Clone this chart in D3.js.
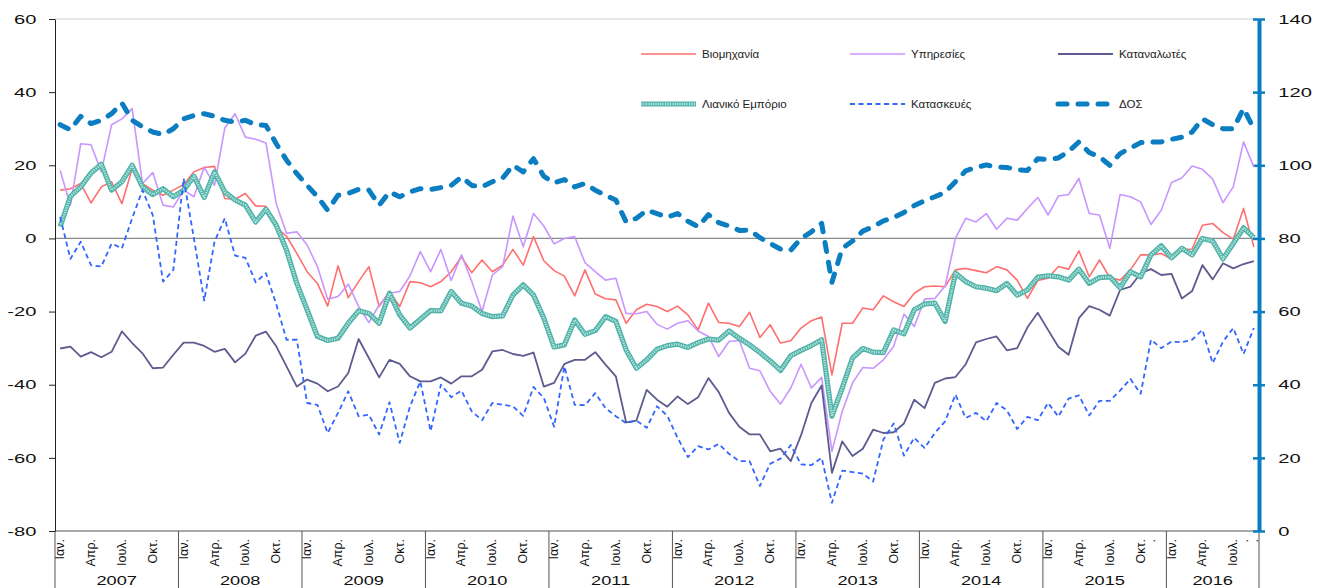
<!DOCTYPE html>
<html><head><meta charset="utf-8">
<script src="https://cdn.jsdelivr.net/npm/d3@7"></script>
<style>
body{margin:0;background:#fff;}
svg{display:block;}
svg text{font-family:"Liberation Sans",Arial,sans-serif;}
</style>
</head><body>
<svg id="chart" width="1317" height="588" font-family="Liberation Sans, Arial, sans-serif"></svg>
<script>
// ---------- DATA ----------
const years = [2007, 2008, 2009, 2010, 2011, 2012, 2013, 2014, 2015, 2016];
const monthsInLastYear = 9;
const monthTickLabels = {0: "Ιαν.", 3: "Απρ.", 6: "Ιουλ.", 9: "Οκτ."};
const extraTickLabels = {106: ".", 115: ".", 116: "."};
const leftTicks = [60, 40, 20, 0, -20, -40, -60, -80];
const rightTicks = [0, 20, 40, 60, 80, 100, 120, 140];
const seriesNames = ["Βιομηχανία", "Υπηρεσίες", "Καταναλωτές", "Λιανικό Εμπόριο", "Κατασκευές", "ΔΟΣ"];

const industry = [
 13.2, 13.6, 15.0, 9.7, 14.1, 15.5, 9.5, 19.1, 15.0, 13.2, 11.8, 13.2,
 14.7, 18.2, 19.4, 19.7, 10.9, 10.7, 12.3, 8.9, 8.8, 3.0, 0.6, -4.1,
 -9.1, -12.3, -18.5, -7.5, -16.2, -11.8, -7.7, -18.6, -14.5, -18.6, -11.8, -12.1,
 -13.2, -11.8, -9.1, -5.0, -9.4, -5.9, -9.1, -7.3, -3.0, -7.3, 0.5, -6.1,
 -8.8, -10.3, -15.7, -8.6, -15.2, -16.5, -16.8, -23.2, -19.5, -18.0, -18.6, -20.0,
 -18.5, -20.9, -25.0, -17.7, -23.0, -23.2, -24.1, -20.2, -27.1, -23.6, -28.6, -28.0,
 -24.5, -22.5, -21.5, -37.3, -23.2, -23.2, -19.0, -19.5, -15.7, -17.3, -18.6, -15.0,
 -13.2, -13.0, -13.2, -8.6, -8.2, -8.8, -9.4, -7.7, -8.6, -11.4, -16.4, -11.5,
 -10.9, -7.7, -8.4, -3.4, -10.5, -5.9, -10.7, -11.4, -8.6, -4.5, -4.5, -4.1,
 -5.7, -3.2, -2.9, 3.6, 4.1, 1.6, -0.2, 8.2, -2.3
];
const services = [
 18.6, 9.1, 25.9, 25.6, 18.2, 31.1, 32.7, 35.5, 15.0, 18.0, 9.1, 8.6,
 13.2, 11.4, 19.5, 14.5, 30.2, 34.1, 27.7, 27.1, 26.1, 9.5, 1.4, 1.8,
 -1.8, -7.7, -16.6, -15.9, -12.5, -18.6, -23.0, -18.2, -15.0, -14.5, -10.2, -3.6,
 -9.1, -3.0, -11.5, -4.5, -11.8, -20.0, -10.0, -7.7, 6.1, -2.3, 6.8, 3.4,
 -1.5, 0.0, 0.5, -6.6, -9.1, -11.4, -10.9, -20.5, -20.6, -20.0, -23.5, -24.8,
 -23.2, -22.5, -25.3, -26.8, -32.3, -28.2, -27.9, -35.5, -36.2, -41.8, -45.3, -40.9,
 -34.4, -40.9, -38.0, -58.2, -47.3, -39.5, -35.3, -35.5, -33.2, -29.5, -20.7, -24.1,
 -16.6, -16.4, -13.0, 0.0, 5.5, 4.5, 6.8, 2.5, 5.5, 5.0, 8.2, 11.2,
 6.4, 11.6, 12.0, 16.4, 6.8, 6.4, -2.7, 12.0, 11.4, 10.0, 3.8, 7.7,
 15.3, 16.5, 19.8, 18.9, 16.2, 9.8, 14.1, 26.4, 19.5
];
const consumers = [
 -30.1, -29.6, -32.3, -31.1, -32.5, -31.0, -25.4, -28.6, -31.4, -35.5, -35.3, -31.8,
 -28.5, -28.5, -29.4, -31.0, -30.2, -33.9, -31.5, -26.6, -25.5, -29.5, -35.0, -40.5,
 -38.6, -39.7, -41.8, -40.5, -36.8, -27.5, -32.7, -38.0, -33.2, -34.3, -37.7, -39.1,
 -39.1, -38.0, -39.7, -37.7, -37.7, -35.9, -30.9, -30.5, -31.6, -32.1, -31.2, -40.5,
 -39.5, -34.3, -33.2, -33.2, -31.1, -34.5, -37.7, -50.3, -49.8, -41.4, -44.1, -46.0,
 -43.2, -45.3, -43.4, -38.2, -42.0, -47.7, -51.5, -53.6, -53.6, -58.2, -57.5, -60.9,
 -53.8, -45.0, -40.2, -64.1, -55.5, -59.5, -57.5, -52.3, -53.2, -53.0, -50.6, -44.1,
 -46.4, -39.5, -38.3, -37.9, -34.4, -28.4, -27.5, -26.8, -30.6, -30.0, -24.3, -20.3,
 -25.0, -29.6, -31.8, -21.8, -18.5, -19.5, -21.1, -14.1, -13.2, -9.5, -8.4, -10.0,
 -9.7, -16.4, -14.4, -7.3, -11.2, -6.8, -8.2, -7.0, -6.2
];
const retail = [
 3.2, 11.5, 14.1, 17.9, 20.3, 13.2, 15.5, 20.0, 14.1, 12.0, 13.6, 11.4,
 13.2, 17.0, 11.2, 18.2, 12.7, 10.5, 9.1, 4.5, 8.0, 3.6, -3.2, -12.3,
 -19.5, -26.8, -27.9, -27.3, -23.2, -19.8, -20.5, -23.2, -15.0, -20.9, -24.5, -22.1,
 -19.7, -19.8, -14.5, -17.7, -18.5, -20.5, -21.4, -21.2, -15.5, -12.7, -15.5, -21.8,
 -29.7, -29.1, -22.3, -26.2, -25.2, -21.4, -22.7, -30.5, -35.5, -33.2, -30.3, -29.3,
 -28.9, -29.8, -28.5, -27.5, -27.8, -25.3, -27.3, -29.1, -31.2, -33.5, -36.1, -32.1,
 -30.6, -29.3, -27.7, -48.6, -40.9, -32.7, -30.1, -31.1, -31.2, -25.0, -26.1, -19.5,
 -17.9, -17.7, -22.7, -9.5, -11.8, -13.2, -13.6, -14.3, -12.3, -15.5, -14.1, -10.6,
 -10.2, -10.5, -11.4, -8.4, -12.3, -10.7, -10.5, -13.5, -9.1, -10.5, -4.5, -2.0,
 -5.3, -2.7, -4.5, 0.0, -0.7, -5.6, -1.4, 2.9, 0.2
];
const construction = [
 5.9, -5.6, -0.9, -7.3, -7.7, -1.4, -2.7, 5.5, 13.2, 6.4, -11.8, -8.6,
 16.4, 0.0, -17.0, -0.9, 5.5, -4.7, -5.3, -12.0, -9.5, -18.0, -27.7, -27.7,
 -45.0, -45.5, -53.2, -47.7, -41.8, -48.6, -48.2, -53.6, -44.8, -55.9, -45.9, -39.1,
 -52.7, -40.0, -43.4, -41.6, -47.3, -49.7, -45.0, -45.5, -45.9, -48.5, -40.6, -43.6,
 -51.5, -35.0, -45.5, -45.6, -42.3, -46.4, -48.6, -50.5, -49.8, -51.8, -45.9, -48.5,
 -54.5, -59.8, -56.8, -57.7, -56.2, -58.9, -60.9, -60.9, -67.7, -61.6, -60.2, -56.5,
 -61.8, -62.0, -60.0, -72.3, -63.5, -63.9, -64.3, -66.5, -55.0, -50.6, -59.4, -54.5,
 -57.3, -53.2, -50.0, -42.7, -49.1, -47.7, -50.0, -45.0, -47.0, -52.1, -48.8, -49.7,
 -45.0, -48.7, -43.8, -42.9, -48.4, -44.4, -44.4, -41.6, -38.4, -42.5, -27.7, -30.0,
 -28.2, -28.4, -27.7, -25.0, -34.1, -28.2, -24.5, -31.6, -24.5
];
const esi = [
 111.1, 109.7, 113.4, 111.4, 112.3, 114.1, 117.0, 112.3, 110.5, 109.1, 108.4, 110.0,
 112.7, 113.6, 114.1, 113.4, 112.3, 111.8, 112.3, 111.1, 110.9, 105.9, 101.4, 97.7,
 94.5, 91.4, 87.7, 91.8, 92.3, 93.4, 93.2, 89.1, 92.7, 91.4, 92.7, 93.6,
 93.4, 93.9, 94.5, 96.8, 94.5, 94.1, 95.5, 96.5, 100.0, 98.2, 101.8, 97.0,
 95.2, 96.1, 94.1, 95.0, 93.2, 91.8, 90.5, 84.5, 85.5, 87.7, 86.8, 85.8,
 86.8, 84.7, 83.2, 86.5, 84.3, 83.4, 82.2, 82.3, 80.2, 78.6, 77.1, 76.8,
 80.0, 81.8, 84.1, 68.0, 77.3, 79.3, 82.0, 83.2, 84.8, 85.7, 87.1, 89.0,
 90.3, 91.4, 92.6, 95.5, 98.5, 99.4, 100.1, 99.5, 99.4, 98.8, 98.6, 101.8,
 101.6, 102.0, 103.8, 106.4, 103.5, 102.3, 100.0, 103.2, 104.7, 106.2, 106.4, 106.4,
 107.1, 107.7, 109.1, 112.7, 111.1, 110.0, 110.0, 115.5, 110.0
];

// ---------- LAYOUT ----------
const FONT = "Liberation Sans, Arial, sans-serif";
const svg = d3.select("#chart");
const L = 55, R = 1259, T = 19, B = 531;
const nMonths = (years.length - 1) * 12 + monthsInLastYear;
const idx = d3.range(nMonths);
const x = d3.scaleBand().domain(idx).range([L, R]).paddingInner(0).paddingOuter(0);
const xc = i => x(i) + x.bandwidth() / 2;
const yL = d3.scaleLinear().domain([-80, 60]).range([B, T]);
const yR = d3.scaleLinear().domain([0, 140]).range([B, T]);

// top border & zero line
svg.append("line").attr("x1", L).attr("x2", R).attr("y1", T).attr("y2", T)
  .attr("stroke", "#cfcfcf").attr("stroke-width", 1);
svg.append("line").attr("x1", L).attr("x2", R).attr("y1", yL(0)).attr("y2", yL(0))
  .attr("stroke", "#8a8a8a").attr("stroke-width", 1.2);

// bottom category axis
svg.append("line").attr("x1", L).attr("x2", R).attr("y1", B).attr("y2", B)
  .attr("stroke", "#555").attr("stroke-width", 1);
const yearStarts = years.map((y, k) => k * 12);
const sepX = yearStarts.map(i => x(i)).concat([R]);
svg.append("g").selectAll("line").data(sepX).join("line")
  .attr("x1", d => d).attr("x2", d => d).attr("y1", B).attr("y2", 588)
  .attr("stroke", "#555").attr("stroke-width", 1);

const tickData = idx.filter(i => (i % 12) in monthTickLabels || i in extraTickLabels)
  .map(i => ({i, t: (i in extraTickLabels) ? extraTickLabels[i] : monthTickLabels[i % 12]}));
svg.append("g").selectAll("text").data(tickData).join("text")
  .attr("transform", d => `translate(${xc(d.i) + 4},${B + 8}) rotate(-90)`)
  .attr("text-anchor", "end").attr("font-family", FONT)
  .attr("font-size", 12.5).attr("fill", "#111")
  .text(d => d.t);

svg.append("g").selectAll("text").data(years).join("text")
  .attr("transform", (d, k) => {
    const s = x(k * 12);
    const e = k === years.length - 1 ? R : x((k + 1) * 12);
    return `translate(${(s + e) / 2},585) scale(1.35,1)`;
  })
  .attr("text-anchor", "middle").attr("font-family", FONT)
  .attr("font-size", 13.5).attr("fill", "#111")
  .text(d => d);

// left axis
const axL = svg.append("g").attr("transform", `translate(${L},0)`)
  .call(d3.axisLeft(yL).tickValues(leftTicks).tickSize(6).tickSizeOuter(0).tickFormat(d3.format("d")));
axL.select(".domain").attr("stroke", "#222");
axL.selectAll(".tick line").attr("stroke", "#222");
axL.selectAll(".tick text").attr("x", -12).attr("font-size", 13)
  .attr("font-family", FONT).attr("fill", "#111")
  .attr("transform", "scale(1.55,1)").text(d => d < 0 ? "-" + Math.abs(d) : d);

// right axis
const blue = "#0b7dc1";
const axR = svg.append("g").attr("transform", `translate(${R},0)`)
  .call(d3.axisRight(yR).tickValues(rightTicks).tickSize(6).tickSizeOuter(0));
axR.select(".domain").attr("stroke", blue).attr("stroke-width", 4);
axR.selectAll(".tick line").attr("x1", -6).attr("x2", 6).attr("stroke", blue).attr("stroke-width", 2.5);
axR.selectAll(".tick text").attr("x", 12.5).attr("font-size", 13)
  .attr("font-family", FONT).attr("fill", "#111")
  .attr("transform", "scale(1.55,1)");

// ---------- SERIES ----------
const lineL = d3.line().x((d, i) => xc(i)).y(d => yL(d));
const lineR = d3.line().x((d, i) => xc(i)).y(d => yR(d));
const plot = svg.append("g");

function drawSeries(g, pathGen, data, kind) {
  const p = () => g.append("path").attr("d", pathGen(data)).attr("fill", "none")
    .attr("stroke-linejoin", "round");
  if (kind === "industry") {
    p().attr("stroke", "#ff6f6f").attr("stroke-width", 1.6);
  } else if (kind === "services") {
    p().attr("stroke", "#c995ff").attr("stroke-width", 1.6);
  } else if (kind === "consumers") {
    p().attr("stroke", "#5d5b8f").attr("stroke-width", 1.8);
  } else if (kind === "retail") {
    p().attr("stroke", "#52b3a9").attr("stroke-width", 5.2);
    p().attr("stroke", "#b9e6e0").attr("stroke-width", 2.4).attr("stroke-dasharray", "1.2 1.2");
  } else if (kind === "construction") {
    p().attr("stroke", "#3366ff").attr("stroke-width", 1.8).attr("stroke-dasharray", "5 3.5");
  } else if (kind === "esi") {
    p().attr("stroke", blue).attr("stroke-width", 5).attr("stroke-dasharray", "9 11")
      .attr("stroke-linecap", "round");
  }
}
drawSeries(plot, lineL, industry, "industry");
drawSeries(plot, lineL, services, "services");
drawSeries(plot, lineL, consumers, "consumers");
drawSeries(plot, lineL, retail, "retail");
drawSeries(plot, lineL, construction, "construction");
drawSeries(plot, lineR, esi, "esi");

// ---------- LEGEND ----------
const kinds = ["industry", "services", "consumers", "retail", "construction", "esi"];
const legCols = [641, 850, 1058];
const legRows = [54, 104];
kinds.forEach((k, j) => {
  const cx = legCols[j % 3], cy = legRows[Math.floor(j / 3)];
  const g = svg.append("g");
  const seg = d3.line()([[cx, cy], [cx + 55, cy]]);
  drawSeries(g, () => seg, null, k);
  g.append("text").attr("transform", `translate(${cx + 61},${cy + 4}) scale(1.05,1)`)
    .attr("font-family", FONT).attr("font-size", 11).attr("fill", "#222").text(seriesNames[j]);
});
</script>
</body></html>
